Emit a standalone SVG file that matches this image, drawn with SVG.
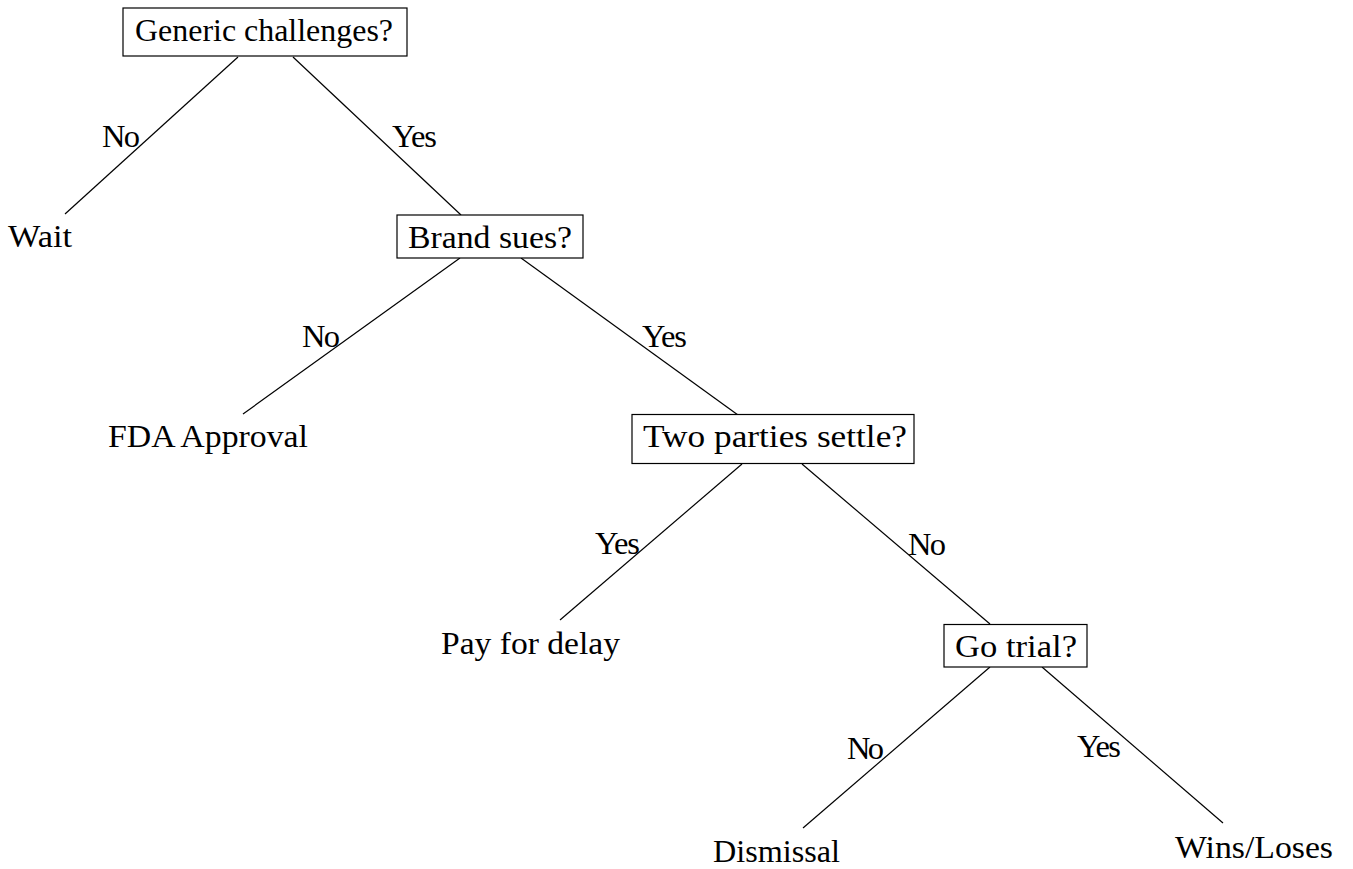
<svg xmlns="http://www.w3.org/2000/svg" width="1353" height="869" viewBox="0 0 1353 869">
<style>
text{font-family:"Liberation Serif","Times New Roman",serif;font-size:32.5px;fill:#000}
.box{fill:#fff;stroke:#000;stroke-width:1.2}
.edge{stroke:#000;stroke-width:1.2;fill:none}
</style>
<rect width="1353" height="869" fill="#fff"/>
<g id="connectors">
<line class="edge" x1="238" y1="57" x2="65" y2="214"/>
<line class="edge" x1="293" y1="57" x2="461" y2="215"/>
<line class="edge" x1="460" y1="258" x2="243" y2="414"/>
<line class="edge" x1="521" y1="258" x2="738" y2="415"/>
<line class="edge" x1="742" y1="464" x2="560" y2="620"/>
<line class="edge" x1="802" y1="464" x2="990" y2="624"/>
<line class="edge" x1="990" y1="667" x2="803" y2="828"/>
<line class="edge" x1="1042" y1="667" x2="1223" y2="823"/>
<text x="102" y="147" textLength="38" lengthAdjust="spacing">No</text>
<text x="392" y="147" textLength="45" lengthAdjust="spacing">Yes</text>
<text x="302" y="347" textLength="38" lengthAdjust="spacing">No</text>
<text x="642" y="347" textLength="45" lengthAdjust="spacing">Yes</text>
<text x="595" y="554" textLength="45" lengthAdjust="spacing">Yes</text>
<text x="908" y="555" textLength="38" lengthAdjust="spacing">No</text>
<text x="847" y="759" textLength="37" lengthAdjust="spacing">No</text>
<text x="1077" y="757" textLength="44" lengthAdjust="spacing">Yes</text>
</g>
<g id="n-generic">
<rect class="box" x="123" y="8" width="284" height="48"/>
<text x="135" y="41" textLength="258" lengthAdjust="spacingAndGlyphs">Generic challenges?</text>
</g>
<g id="n-wait">
<text x="8" y="247" textLength="64" lengthAdjust="spacingAndGlyphs">Wait</text>
</g>
<g id="n-brand">
<rect class="box" x="397" y="215" width="186" height="43"/>
<text x="408" y="247.5" textLength="164" lengthAdjust="spacingAndGlyphs">Brand sues?</text>
</g>
<g id="n-fda">
<text x="108" y="447" textLength="200" lengthAdjust="spacingAndGlyphs">FDA Approval</text>
</g>
<g id="n-settle">
<rect class="box" x="632" y="414.5" width="282" height="49"/>
<text x="643" y="446.5" textLength="264" lengthAdjust="spacingAndGlyphs">Two parties settle?</text>
</g>
<g id="n-pay">
<text x="441" y="654" textLength="179" lengthAdjust="spacingAndGlyphs">Pay for delay</text>
</g>
<g id="n-trial">
<rect class="box" x="944" y="624.5" width="143" height="42.5"/>
<text x="955" y="656.5" textLength="122" lengthAdjust="spacingAndGlyphs">Go trial?</text>
</g>
<g id="n-dismissal">
<text x="713" y="862" textLength="127" lengthAdjust="spacingAndGlyphs">Dismissal</text>
</g>
<g id="n-wins">
<text x="1175" y="858" textLength="158" lengthAdjust="spacingAndGlyphs">Wins/Loses</text>
</g>
</svg>
